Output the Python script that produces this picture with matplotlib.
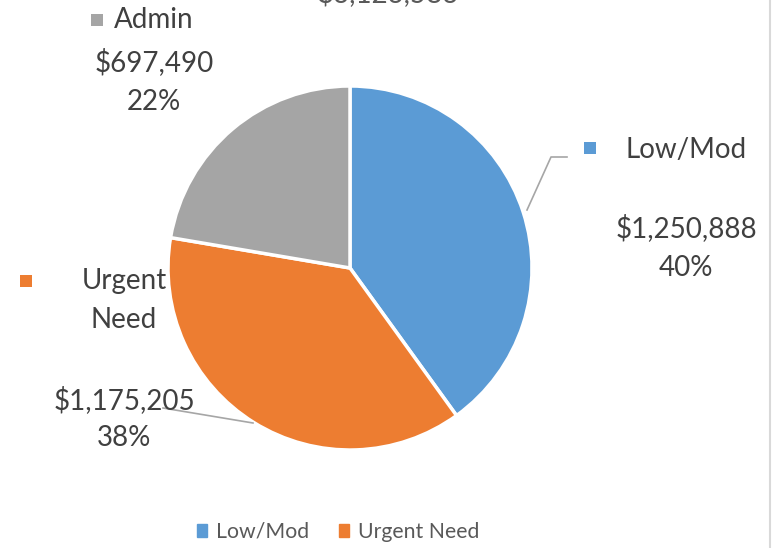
import matplotlib
matplotlib.use("Agg")
import matplotlib.pyplot as plt
from matplotlib.patches import Rectangle
from matplotlib.lines import Line2D

categories = ["Low/Mod", "Urgent Need", "Admin"]
values = [1250888, 1175205, 697490]
colors = ["#5B9BD5", "#ED7D31", "#A5A5A5"]
legend_categories = ["Low/Mod", "Urgent Need"]
title = "$3,123,583"

W, H = 776, 548
plt.rcParams['font.family'] = ['Lato', 'DejaVu Sans']
fig = plt.figure(figsize=(W / 100, H / 100), dpi=100)
ax = fig.add_axes([0, 0, 1, 1])
ax.set_xlim(0, W)
ax.set_ylim(0, H)
ax.set_aspect('equal')
ax.axis('off')

def Y(y):
    return H - y

TXT = "#404040"
total = sum(values)

ax.pie(values, colors=colors, startangle=90, counterclock=False,
       center=(350, Y(268)), radius=182,
       wedgeprops=dict(edgecolor='white', linewidth=2.5))
ax.set_xlim(0, W)
ax.set_ylim(0, H)

fs = 20
def label(idx, mx, my, name_lines, tx, name_y, val_y, pct_y):
    ax.add_patch(Rectangle((mx - 6, Y(my) - 6), 12, 12, color=colors[idx], lw=0))
    for k, line in enumerate(name_lines):
        ax.text(tx, Y(name_y[k]), line, ha='center', va='center', fontsize=fs, color=TXT)
    ax.text(tx, Y(val_y), f"${values[idx]:,}", ha='center', va='center', fontsize=fs, color=TXT)
    ax.text(tx, Y(pct_y), f"{round(values[idx] / total * 100)}%", ha='center', va='center',
            fontsize=fs, color=TXT)

label(2, 97, 20, ["Admin"], 154, [20], 62, 102)
label(0, 590, 148, ["Low/Mod"], 686, [150], 228, 268)
label(1, 26, 281, ["Urgent", "Need"], 124, [281, 320], 400, 438)

ax.add_line(Line2D([527, 551, 567], [Y(210), Y(157), Y(157)], color='#A6A6A6', lw=1.2))
ax.add_line(Line2D([163, 253], [Y(408), Y(423)], color='#A6A6A6', lw=1.2))

# title, cut off at the top edge as in the reference
ax.text(388, Y(2), title, ha='center', va='baseline', fontsize=20, color='#595959',
        clip_on=False)

# chart border on the right
ax.add_line(Line2D([770, 770], [0, H], color='#D9D9D9', lw=1.5))

# legend
handles = [Rectangle((0, 0), 1, 1, color=c) for c in colors[:2]]
fig.legend(handles, legend_categories, loc='center', bbox_to_anchor=(338 / W, 1 - 532 / H),
           ncol=2, frameon=False, fontsize=15.3, handlelength=0.5, handleheight=0.5,
           handletextpad=0.4, columnspacing=1.4, labelcolor='#595959')

fig.savefig("out.png", dpi=100)
